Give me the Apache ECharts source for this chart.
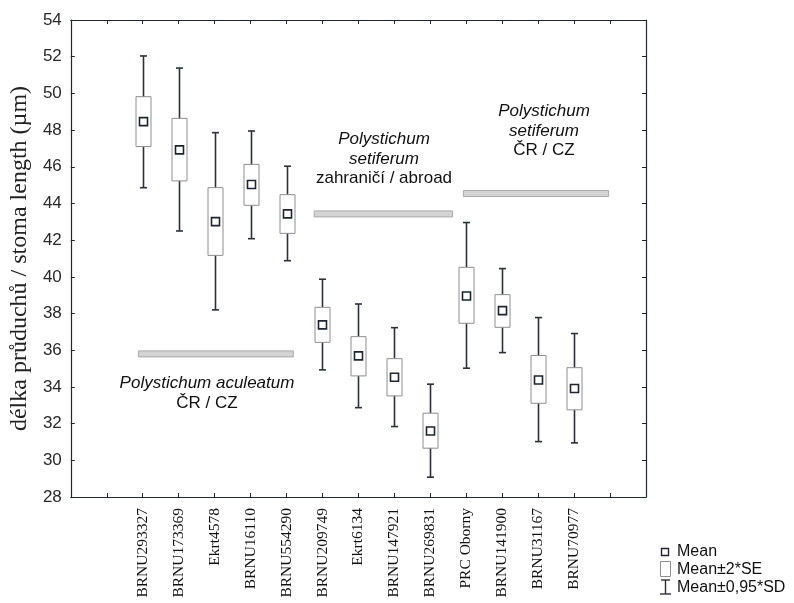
<!DOCTYPE html>
<html><head><meta charset="utf-8">
<script src="https://cdn.jsdelivr.net/npm/echarts@6/dist/echarts.min.js"></script>
<style>html,body{margin:0;padding:0;background:#fff}#c{width:794px;height:603px}</style>
</head><body><div id="c"></div>
<script>
const categories = ['BRNU293327','BRNU173369','Ekrt4578','BRNU16110','BRNU554290','BRNU209749','Ekrt6134','BRNU147921','BRNU269831','PRC Oborny','BRNU141900','BRNU31167','BRNU70977'];
const meanValues = [48.46,46.92,43.01,45.03,43.43,37.38,35.69,34.53,31.60,38.96,38.16,34.38,33.91];
const seLow  = [47.10,45.23,41.17,43.90,42.37,36.43,34.60,33.51,30.66,37.47,37.25,33.11,32.75];
const seHigh = [49.82,48.64,44.86,46.13,44.48,38.34,36.74,35.54,32.57,40.52,39.03,35.71,35.05];
const sdLow  = [44.86,42.50,38.20,42.08,40.88,34.93,32.87,31.84,29.08,35.02,35.87,31.02,30.95];
const sdHigh = [52.04,51.38,47.86,47.95,46.03,39.87,38.52,37.23,34.15,42.96,40.45,37.78,36.91];
const yMin = 28, yMax = 54, yStep = 2;
// group annotation bars (x in slot units, y in µm)
const groupStart = [1.88, 6.77, 10.92];
const groupEnd   = [6.19, 10.62, 14.96];
const groupLevel = [35.8, 43.43, 44.54];

const slotOffset = 2;
const xMax = categories.length + 3;
const boxData = categories.map((c, i) => [i + slotOffset, sdLow[i], seLow[i], meanValues[i], seHigh[i], sdHigh[i]]);
const barData = groupStart.map((s, i) => [s, groupEnd[i], groupLevel[i]]);

const AX = '#1f2633';
const sans = 'Liberation Sans, Arial, sans-serif';
const serif = 'Liberation Serif, Times New Roman, serif';

const chart = echarts.init(document.getElementById('c'), null, {renderer: 'canvas'});
const tickStyle = {show: true, inside: true, length: 4, lineStyle: {color: AX, width: 1}};
const txt = (x, y, t, italic) => ({type: 'text', x: x, y: y, style: {text: t, font: (italic ? 'italic ' : '') + '17px ' + sans, fill: '#111', align: 'center', verticalAlign: 'middle'}});
chart.setOption({
  animation: false,
  backgroundColor: '#fff',
  grid: {left: 67, top: 20, right: 148, bottom: 106, containLabel: false},
  xAxis: [{
    type: 'value', min: 0, max: xMax, interval: 1,
    axisLine: {show: true, onZero: false, lineStyle: {color: AX, width: 1.2}},
    axisTick: tickStyle,
    splitLine: {show: false},
    axisLabel: {
      rotate: 90, margin: 11, color: '#111', fontFamily: serif, fontSize: 15.5,
      formatter: v => categories[v - slotOffset] || ''
    }
  }, {
    type: 'value', position: 'top', min: 0, max: xMax, interval: 1,
    axisLine: {show: true, onZero: false, lineStyle: {color: AX, width: 1.2}},
    axisTick: tickStyle, axisLabel: {show: false}, splitLine: {show: false}
  }],
  yAxis: [{
    type: 'value', min: yMin, max: yMax, interval: yStep,
    axisLine: {show: true, onZero: false, lineStyle: {color: AX, width: 1.2}},
    axisTick: tickStyle, splitLine: {show: false},
    axisLabel: {color: '#2a2a2a', fontFamily: sans, fontSize: 17, margin: 9},
    name: 'délka průduchů / stoma length (µm)', nameLocation: 'middle', nameGap: 37,
    nameTextStyle: {fontFamily: serif, fontSize: 24, color: '#222'}
  }, {
    type: 'value', position: 'right', min: yMin, max: yMax, interval: yStep,
    axisLine: {show: true, onZero: false, lineStyle: {color: AX, width: 1.2}},
    axisTick: tickStyle, axisLabel: {show: false}, splitLine: {show: false}
  }],
  series: [{
    type: 'custom', name: 'groups', data: barData, z: 1,
    encode: {x: [0, 1], y: 2},
    renderItem: (params, api) => {
      const a = api.coord([api.value(0), api.value(2)]);
      const b = api.coord([api.value(1), api.value(2)]);
      return {type: 'rect', shape: {x: a[0], y: a[1] - 3, width: b[0] - a[0], height: 6},
        style: {fill: '#d4d4d4', stroke: '#a9a9a9', lineWidth: 1}};
    }
  }, {
    type: 'custom', name: 'stats', data: boxData, z: 3,
    encode: {x: 0, y: [1, 2, 3, 4, 5]},
    renderItem: (params, api) => {
      const x = api.value(0);
      const pSdL = api.coord([x, api.value(1)]);
      const pSeL = api.coord([x, api.value(2)]);
      const pM = api.coord([x, api.value(3)]);
      const pSeH = api.coord([x, api.value(4)]);
      const pSdH = api.coord([x, api.value(5)]);
      const cx = Math.round(pM[0]) + 0.5;
      const bw = 15, cap = 7, ms = 8;
      const ws = {stroke: '#2b303b', lineWidth: 1.6};
      return {type: 'group', children: [
        {type: 'line', shape: {x1: cx, y1: pSdH[1], x2: cx, y2: pSdL[1]}, style: ws},
        {type: 'line', shape: {x1: cx - cap / 2, y1: pSdH[1], x2: cx + cap / 2, y2: pSdH[1]}, style: ws},
        {type: 'line', shape: {x1: cx - cap / 2, y1: pSdL[1], x2: cx + cap / 2, y2: pSdL[1]}, style: ws},
        {type: 'rect', shape: {x: cx - bw / 2, y: pSeH[1], width: bw, height: pSeL[1] - pSeH[1]},
          style: {fill: '#fff', stroke: '#8e8e8e', lineWidth: 1}},
        {type: 'rect', shape: {x: cx - ms / 2, y: pM[1] - ms / 2, width: ms, height: ms},
          style: {fill: '#fff', stroke: '#1f2530', lineWidth: 1.6}}
      ]};
    }
  }],
  graphic: [
    txt(207, 383, 'Polystichum aculeatum', true),
    txt(207, 403, 'ČR / CZ', false),
    txt(384, 139, 'Polystichum', true),
    txt(384, 159, 'setiferum', true),
    txt(384, 178, 'zahraničí / abroad', false),
    txt(544, 111, 'Polystichum', true),
    txt(544, 131, 'setiferum', true),
    txt(544, 150, 'ČR / CZ', false),
    // legend
    {type: 'rect', shape: {x: 661.5, y: 548.5, width: 7, height: 7}, style: {fill: '#fff', stroke: '#1f2530', lineWidth: 1.4}},
    {type: 'text', x: 677, y: 552, style: {text: 'Mean', font: '16px ' + sans, fill: '#111', verticalAlign: 'middle'}},
    {type: 'rect', shape: {x: 660.5, y: 561.5, width: 10, height: 15}, style: {fill: '#fff', stroke: '#8e8e8e', lineWidth: 1}},
    {type: 'text', x: 677, y: 570, style: {text: 'Mean±2*SE', font: '16px ' + sans, fill: '#111', verticalAlign: 'middle'}},
    {type: 'polyline', shape: {points: [[661, 580], [670, 580]]}, style: {stroke: '#2b303b', lineWidth: 1.4}},
    {type: 'polyline', shape: {points: [[665.5, 580], [665.5, 594]]}, style: {stroke: '#2b303b', lineWidth: 1.4}},
    {type: 'polyline', shape: {points: [[660, 594], [671, 594]]}, style: {stroke: '#2b303b', lineWidth: 1.4}},
    {type: 'text', x: 677, y: 588, style: {text: 'Mean±0,95*SD', font: '16px ' + sans, fill: '#111', verticalAlign: 'middle'}}
  ]
});
</script></body></html>
